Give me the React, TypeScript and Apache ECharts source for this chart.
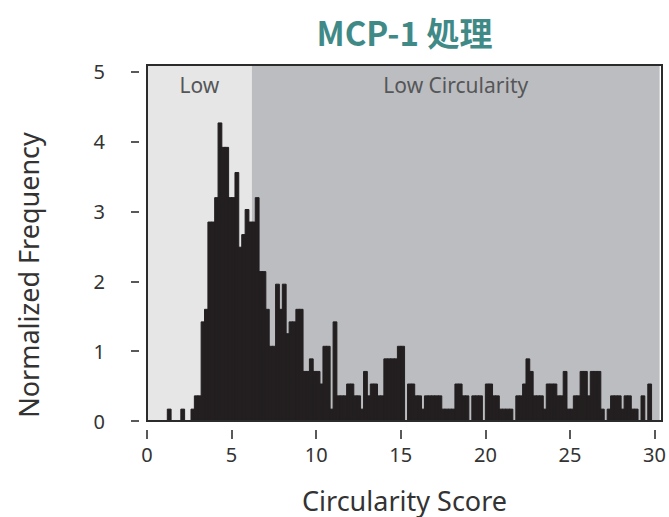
import React, { useEffect, useRef } from "react";
import * as echarts from "echarts";

// Histogram bins of width 0.2 starting at 0
const binWidth = 0.2;
const frequency = [
  0, 0, 0, 0, 0, 0, 0.17, 0, 0, 0,
  0.17, 0, 0, 0.17, 0.36, 0.36, 1.42, 1.6, 2.85, 2.85,
  3.2, 4.27, 3.92, 3.92, 3.2, 3.2, 3.56, 2.49, 2.67, 3.03,
  2.85, 2.85, 3.2, 2.14, 2.14, 1.6, 1.07, 1.07, 1.96, 1.6,
  1.96, 1.25, 1.42, 1.42, 1.6, 1.6, 0.71, 0.71, 0.89, 0.71,
  0.71, 0.53, 1.07, 1.07, 0.17, 1.42, 0.36, 0.36, 0.36, 0.53,
  0.53, 0.36, 0.36, 0.17, 0.71, 0.36, 0.53, 0.53, 0.36, 0.36,
  0.89, 0.89, 0.89, 0.89, 1.07, 1.07, 0, 0.53, 0.53, 0.36,
  0.36, 0.17, 0.36, 0.36, 0.36, 0.36, 0.36, 0.17, 0.17, 0.17,
  0.17, 0.53, 0.53, 0.36, 0.36, 0, 0.36, 0.36, 0.36, 0,
  0.53, 0.53, 0.36, 0.36, 0.17, 0.17, 0.17, 0.17, 0, 0.36,
  0.36, 0.53, 0.89, 0.71, 0.36, 0.36, 0.36, 0.17, 0.53, 0.53,
  0.53, 0.36, 0.36, 0.71, 0.17, 0.17, 0.36, 0.36, 0.71, 0.71,
  0.36, 0.71, 0.71, 0.71, 0.17, 0, 0.17, 0.36, 0.36, 0.36,
  0.17, 0.36, 0.36, 0.17, 0.17, 0, 0.36, 0, 0.53, 0,
];

const xTicks = [0, 5, 10, 15, 20, 25, 30];
const yTicks = [0, 1, 2, 3, 4, 5];
const xMin = 0;
const xMax = 30.3;
const yMin = 0;
const yMax = 5.1;

const regionLabels = ["Low", "Low Circularity"];
const regionStarts = [0, 6.2];
const regionEnds = [6.2, 30.3];
const regionColors = ["#e6e6e6", "#bcbdc0"];

const title = "MCP-1 処理";
const xName = "Circularity Score";
const yName = "Normalized Frequency";

const W = 669;
const H = 517;
const G = { left: 147, right: 7, top: 65, bottom: 96 };

export default function App() {
  const ref = useRef<HTMLDivElement>(null);
  useEffect(() => {
    document.body.style.margin = "0";
    if (!ref.current) return;
    const chart = echarts.init(ref.current, null, { renderer: "svg" });
    const font = "'Noto Sans', 'Open Sans', sans-serif";

    const binData = frequency.map((v, i) => [i * binWidth, (i + 1) * binWidth, v]);
    const regionData = regionLabels.map((_, i) => [regionStarts[i], regionEnds[i], i]);

    const gw = W - G.left - G.right;
    const gh = H - G.top - G.bottom;

    chart.setOption({
      animation: false,
      grid: { left: G.left, right: G.right, top: G.top, bottom: G.bottom, containLabel: false },
      xAxis: {
        type: "value",
        min: xMin,
        max: xMax,
        offset: 9,
        axisLine: { show: false, onZero: false },
        splitLine: { show: false },
        axisTick: {
          show: true,
          length: 9,
          customValues: xTicks,
          lineStyle: { color: "#222", width: 1.5 },
        },
        axisLabel: {
          customValues: xTicks,
          fontSize: 20,
          color: "#333",
          margin: 14,
          fontFamily: font,
        },
      },
      yAxis: {
        type: "value",
        min: yMin,
        max: yMax,
        offset: 8,
        axisLine: { show: false, onZero: false },
        splitLine: { show: false },
        axisTick: {
          show: true,
          length: 8,
          customValues: yTicks,
          lineStyle: { color: "#222", width: 1.5 },
        },
        axisLabel: {
          customValues: yTicks,
          fontSize: 20,
          color: "#333",
          margin: 34,
          fontFamily: font,
        },
      },
      series: [
        {
          type: "custom",
          z: 1,
          silent: true,
          data: regionData,
          encode: { x: [0, 1], y: 2 },
          renderItem: (params: any, api: any) => {
            const a = api.coord([api.value(0), yMax]);
            const b = api.coord([api.value(1), yMin]);
            const idx = api.value(2);
            return {
              type: "group",
              children: [
                {
                  type: "rect",
                  shape: { x: a[0], y: a[1], width: b[0] - a[0], height: b[1] - a[1] },
                  style: { fill: regionColors[idx] },
                },
                {
                  type: "text",
                  x: (a[0] + b[0]) / 2,
                  y: a[1] + 20,
                  style: {
                    text: regionLabels[idx],
                    fill: "#555658",
                    fontSize: 21,
                    fontFamily: font,
                    align: "center",
                    verticalAlign: "middle",
                  },
                },
              ],
            };
          },
        },
        {
          type: "custom",
          z: 2,
          silent: true,
          data: binData,
          encode: { x: [0, 1], y: 2 },
          renderItem: (params: any, api: any) => {
            const v = api.value(2);
            if (!v) return null;
            const s = api.coord([api.value(0), v]);
            const e = api.coord([api.value(1), yMin]);
            return {
              type: "rect",
              shape: { x: s[0], y: s[1], width: e[0] - s[0] + 0.4, height: e[1] - s[1] },
              style: { fill: "#231f20", stroke: "#231f20", lineWidth: 1 },
            };
          },
        },
      ],
      graphic: [
        {
          type: "rect",
          z: 100,
          silent: true,
          shape: { x: G.left, y: G.top, width: gw, height: gh },
          style: { fill: "none", stroke: "#2b2b2b", lineWidth: 2 },
        },
        {
          type: "text",
          x: G.left + gw / 2,
          y: 32,
          style: {
            text: title,
            fill: "#3f8a87",
            fontSize: 33,
            fontWeight: "bold",
            fontFamily: "'Noto Sans CJK SC', 'Noto Sans', sans-serif",
            align: "center",
            verticalAlign: "middle",
          },
        },
        {
          type: "text",
          x: G.left + gw / 2,
          y: 500,
          style: {
            text: xName,
            fill: "#333",
            fontSize: 27,
            fontFamily: font,
            align: "center",
            verticalAlign: "middle",
          },
        },
        {
          type: "text",
          x: 28,
          y: 275,
          rotation: Math.PI / 2,
          style: {
            text: yName,
            fill: "#333",
            fontSize: 27,
            fontFamily: font,
            align: "center",
            verticalAlign: "middle",
          },
        },
      ],
    });
    return () => chart.dispose();
  }, []);
  return <div ref={ref} style={{ width: W, height: H }} />;
}
